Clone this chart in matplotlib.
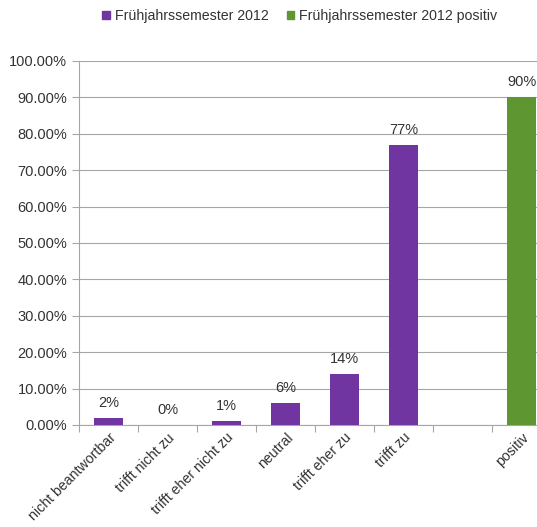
import matplotlib
matplotlib.use("Agg")
import matplotlib.pyplot as plt
from matplotlib.ticker import FuncFormatter, FixedLocator
from matplotlib.patches import Patch

plt.rcParams['font.family'] = ['Liberation Sans', 'DejaVu Sans']

categories = ["nicht beantwortbar", "trifft nicht zu", "trifft eher nicht zu",
              "neutral", "trifft eher zu", "trifft zu", "", "positiv"]
semester_values = [2, 0, 1, 6, 14, 77, None, None]
positive_values = [None, None, None, None, None, None, None, 90]
series_names = ["Frühjahrssemester 2012", "Frühjahrssemester 2012 positiv"]

purple = "#7135A1"
green = "#5E9731"
text_color = "#333333"
grid_color = "#A6A6A6"
fs = 10.5

fig = plt.figure(figsize=(5.37, 5.27), dpi=100)
ax = fig.add_axes([79 / 537, (527 - 425) / 527, 1 - 79 / 537, (425 - 61) / 527])

bar_w = 0.5
for values, color in ((semester_values, purple), (positive_values, green)):
    for i, v in enumerate(values):
        if v is None:
            continue
        ax.bar(i, v / 100, width=bar_w, color=color, zorder=3)
        ax.text(i, v / 100 + 0.022, f"{v}%", ha="center", va="bottom",
                fontsize=fs, color=text_color, zorder=4)

ax.set_xlim(-0.5, 7.26)
ax.set_ylim(0, 1.0)
ax.set_yticks([i / 10 for i in range(11)])
ax.yaxis.set_major_formatter(FuncFormatter(lambda y, _: f"{y * 100:.2f}%"))
ax.yaxis.grid(True, color=grid_color, linewidth=0.8, zorder=0)
ax.set_axisbelow(True)

ax.set_xticks(range(len(categories)))
ax.set_xticklabels(categories, rotation=45, ha="right", rotation_mode="anchor",
                   fontsize=10.2, color=text_color)
ax.tick_params(axis="x", length=0, pad=4)
ax.xaxis.set_minor_locator(FixedLocator([i - 0.5 for i in range(len(categories))]))
ax.tick_params(axis="x", which="minor", length=5, color=grid_color, width=0.8)
ax.tick_params(axis="y", length=5, color=grid_color, width=0.8,
               labelsize=fs, labelcolor=text_color)

for side in ("top", "right"):
    ax.spines[side].set_visible(False)
for side in ("left", "bottom"):
    ax.spines[side].set_color(grid_color)
    ax.spines[side].set_linewidth(0.8)

handles = [Patch(color=purple), Patch(color=green)]
fig.legend(handles, series_names, loc="center", bbox_to_anchor=(0.558, 0.97),
           ncol=2, frameon=False, fontsize=10.2, handlelength=0.55, handleheight=0.55,
           handletextpad=0.3, columnspacing=1.3, labelcolor=text_color)

fig.savefig("out.png", dpi=100)
